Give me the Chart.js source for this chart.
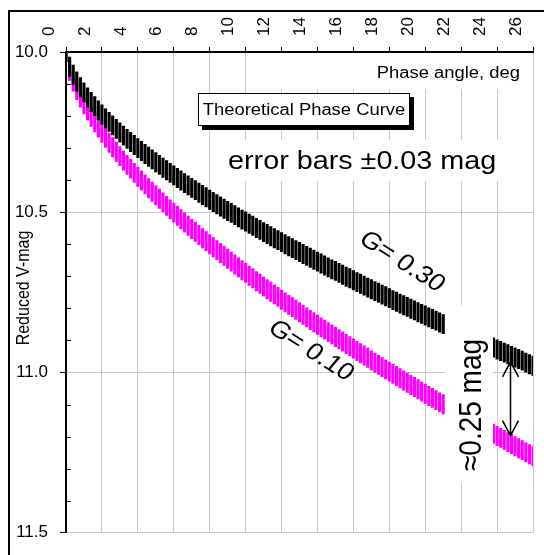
<!DOCTYPE html>
<html>
<head>
<meta charset="utf-8">
<title>Theoretical Phase Curve</title>
<script src="https://cdn.jsdelivr.net/npm/chart.js@4.4.1/dist/chart.umd.min.js"></script>
<style>
  html, body { margin: 0; padding: 0; background: #fff; }
  #phaseChart { display: block; }
</style>
</head>
<body>
<canvas id="phaseChart" width="544" height="555"></canvas>
<script>
// phase angle, deg
const phaseAngles = [
  0, 0.2, 0.4, 0.6, 0.8, 1, 1.2, 1.4, 1.6, 1.8, 2, 2.2, 2.4, 2.6, 2.8,
  3, 3.2, 3.4, 3.6, 3.8, 4, 4.2, 4.4, 4.6, 4.8, 5, 5.2, 5.4, 5.6, 5.8,
  6, 6.2, 6.4, 6.6, 6.8, 7, 7.2, 7.4, 7.6, 7.8, 8, 8.2, 8.4, 8.6, 8.8,
  9, 9.2, 9.4, 9.6, 9.8, 10, 10.2, 10.4, 10.6, 10.8, 11, 11.2, 11.4, 11.6, 11.8,
  12, 12.2, 12.4, 12.6, 12.8, 13, 13.2, 13.4, 13.6, 13.8, 14, 14.2, 14.4, 14.6, 14.8,
  15, 15.2, 15.4, 15.6, 15.8, 16, 16.2, 16.4, 16.6, 16.8, 17, 17.2, 17.4, 17.6, 17.8,
  18, 18.2, 18.4, 18.6, 18.8, 19, 19.2, 19.4, 19.6, 19.8, 20, 20.2, 20.4, 20.6, 20.8,
  21, 21.2, 21.4, 21.6, 21.8, 22, 22.2, 22.4, 22.6, 22.8, 23, 23.2, 23.4, 23.6, 23.8,
  24, 24.2, 24.4, 24.6, 24.8, 25, 25.2, 25.4, 25.6, 25.8, 26
];

// reduced V magnitude, G = 0.30
const magG030 = [
  10.000, 10.046, 10.071, 10.092, 10.110, 10.126, 10.142, 10.156, 10.169, 10.182, 10.195, 10.207, 10.218, 10.229, 10.240,
  10.251, 10.261, 10.271, 10.281, 10.290, 10.300, 10.309, 10.318, 10.327, 10.335, 10.344, 10.352, 10.361, 10.369, 10.377,
  10.385, 10.393, 10.401, 10.409, 10.416, 10.424, 10.431, 10.439, 10.446, 10.453, 10.461, 10.468, 10.475, 10.482, 10.489,
  10.496, 10.502, 10.509, 10.516, 10.523, 10.529, 10.536, 10.542, 10.549, 10.555, 10.562, 10.568, 10.575, 10.581, 10.587,
  10.593, 10.600, 10.606, 10.612, 10.618, 10.624, 10.630, 10.636, 10.642, 10.648, 10.654, 10.660, 10.666, 10.672, 10.678,
  10.683, 10.689, 10.695, 10.701, 10.706, 10.712, 10.718, 10.723, 10.729, 10.735, 10.740, 10.746, 10.751, 10.757, 10.762,
  10.768, 10.774, 10.779, 10.785, 10.790, 10.795, 10.801, 10.806, 10.812, 10.817, 10.822, 10.828, 10.833, 10.838, 10.844,
  10.849, 10.854, 10.860, 10.865, 10.870, 10.875, 10.881, 10.886, 10.891, 10.896, 10.902, 10.907, 10.912, 10.917, 10.922,
  10.928, 10.933, 10.938, 10.943, 10.948, 10.953, 10.958, 10.963, 10.969, 10.974, 10.979
];

// reduced V magnitude, G = 0.10
const magG010 = [
  10.000, 10.059, 10.092, 10.119, 10.142, 10.163, 10.183, 10.202, 10.219, 10.236, 10.252, 10.268, 10.283, 10.297, 10.311,
  10.325, 10.339, 10.352, 10.364, 10.377, 10.389, 10.401, 10.413, 10.425, 10.436, 10.447, 10.458, 10.469, 10.480, 10.491,
  10.501, 10.511, 10.522, 10.532, 10.542, 10.552, 10.561, 10.571, 10.581, 10.590, 10.600, 10.609, 10.618, 10.627, 10.636,
  10.645, 10.654, 10.663, 10.672, 10.681, 10.689, 10.698, 10.706, 10.715, 10.723, 10.732, 10.740, 10.748, 10.756, 10.764,
  10.773, 10.781, 10.789, 10.796, 10.804, 10.812, 10.820, 10.828, 10.836, 10.843, 10.851, 10.859, 10.866, 10.874, 10.881,
  10.889, 10.896, 10.903, 10.911, 10.918, 10.925, 10.933, 10.940, 10.947, 10.954, 10.962, 10.969, 10.976, 10.983, 10.990,
  10.997, 11.004, 11.011, 11.018, 11.025, 11.032, 11.039, 11.045, 11.052, 11.059, 11.066, 11.073, 11.079, 11.086, 11.093,
  11.099, 11.106, 11.113, 11.119, 11.126, 11.133, 11.139, 11.146, 11.152, 11.159, 11.165, 11.172, 11.178, 11.185, 11.191,
  11.198, 11.204, 11.210, 11.217, 11.223, 11.230, 11.236, 11.242, 11.249, 11.255, 11.261
];

const errHalf = 0.03;   // error bars +-0.03 mag

const xTicks = [0, 2, 4, 6, 8, 10, 12, 14, 16, 18, 20, 22, 24, 26];
const yTicks = [10.0, 10.5, 11.0, 11.5];
const yMinorTicks = [10.1, 10.2, 10.3, 10.4, 10.6, 10.7, 10.8, 10.9, 11.1, 11.2, 11.3, 11.4];

// arrow between the two curves: phase angle and magnitudes of the two tips
const arrowAngle = 24.7;
const arrowMags = [10.967, 11.197];

const FONT = '"Liberation Sans", Arial, Helvetica, sans-serif';
const STRETCH = 1.15;

function band(mags) {
  return phaseAngles.map((a, i) => ({ x: a, y: [mags[i] - errHalf, mags[i] + errHalf] }));
}

function drawLabel(ctx, text, x, y, size, angle, align, baseline) {
  ctx.save();
  ctx.translate(x, y);
  ctx.scale(STRETCH, 1);
  ctx.rotate(angle || 0);
  ctx.font = size + 'px ' + FONT;
  ctx.fillStyle = '#000';
  ctx.textAlign = align || 'center';
  ctx.textBaseline = baseline || 'middle';
  ctx.fillText(text, 0, 0);
  ctx.restore();
}

const annotations = {
  id: 'annotations',
  afterDraw(chart) {
    const ctx = chart.ctx;
    const area = chart.chartArea;
    const xs = chart.scales.x;
    const ys = chart.scales.y;
    ctx.save();

    // frame round the picture
    ctx.fillStyle = '#000';
    ctx.fillRect(8, 10, 2, 545);
    ctx.fillRect(8, 10, 536, 2);

    drawLabel(ctx, 'Reduced V-mag', 24, 288, 16, -Math.PI / 2);

    // minor ticks, inside the plot
    ctx.strokeStyle = '#000';
    ctx.lineWidth = 1;
    yMinorTicks.forEach(m => {
      const y = Math.round(ys.getPixelForValue(m)) + 0.5;
      ctx.beginPath();
      ctx.moveTo(area.left, y);
      ctx.lineTo(area.left + 5, y);
      ctx.stroke();
    });

    // axis title inside the plot, top right
    ctx.fillStyle = '#fff';
    ctx.fillRect(265, area.top + 1, area.right - 266, 36);
    drawLabel(ctx, 'Phase angle, deg', 520, 78, 16, 0, 'right', 'alphabetic');

    // title box with shadow
    ctx.fillStyle = '#000';
    ctx.fillRect(202, 97, 212, 33);
    ctx.fillStyle = '#fff';
    ctx.fillRect(198, 93, 212, 33);
    ctx.strokeStyle = '#000';
    ctx.lineWidth = 1;
    ctx.strokeRect(198.5, 93.5, 211, 32);
    drawLabel(ctx, 'Theoretical Phase Curve', 304, 115, 16, 0, 'center', 'alphabetic');

    ctx.fillStyle = '#fff';
    ctx.fillRect(218, 140, 314, 41);
    drawLabel(ctx, 'error bars \u00b10.03 mag', 228, 169, 25, 0, 'left', 'alphabetic');

    drawLabel(ctx, 'G= 0.30', 402, 262, 24, 0.63);
    drawLabel(ctx, 'G= 0.10', 311, 351, 24, 0.63);

    // difference label covers the bands between the two arrow positions
    ctx.fillStyle = '#fff';
    ctx.fillRect(445, 305, 48, 178);
    drawLabel(ctx, '\u22480.25 mag', 472, 405, 28, -Math.PI / 2);

    // double arrow
    const ax = Math.round(xs.getPixelForValue(arrowAngle)) + 0.5;
    const y1 = ys.getPixelForValue(arrowMags[0]);
    const y2 = ys.getPixelForValue(arrowMags[1]);
    ctx.strokeStyle = '#000';
    ctx.lineWidth = 1.5;
    ctx.beginPath();
    ctx.moveTo(ax, y1);
    ctx.lineTo(ax, y2);
    ctx.moveTo(ax - 8, y1 + 15);
    ctx.lineTo(ax, y1);
    ctx.lineTo(ax + 8, y1 + 15);
    ctx.moveTo(ax - 8, y2 - 15);
    ctx.lineTo(ax, y2);
    ctx.lineTo(ax + 8, y2 - 15);
    ctx.stroke();

    ctx.restore();
  }
};

document.addEventListener('DOMContentLoaded', function () {
  Chart.defaults.font.family = FONT;
  Chart.defaults.color = '#000';

  const barStyle = {
    borderWidth: 0,
    grouped: false,
    barPercentage: 1,
    categoryPercentage: 1,
    maxBarThickness: 2.5,
    clip: 0
  };

  const ctx = document.getElementById('phaseChart').getContext('2d');
  new Chart(ctx, {
    type: 'bar',
    data: {
      datasets: [
        Object.assign({ label: 'G= 0.30', data: band(magG030), backgroundColor: '#000000' }, barStyle),
        Object.assign({ label: 'G= 0.10', data: band(magG010), backgroundColor: '#ff00ff' }, barStyle)
      ]
    },
    options: {
      responsive: false,
      animation: false,
      layout: { padding: { left: 10, top: 12, right: 9, bottom: 13 } },
      plugins: {
        legend: { display: false },
        tooltip: { enabled: false }
      },
      scales: {
        x: {
          type: 'linear',
          position: 'top',
          offset: false,
          min: 0,
          max: 26,
          afterBuildTicks: scale => { scale.ticks = xTicks.map(v => ({ value: v })); },
          afterFit: scale => { scale.height = 40; },
          ticks: {
            autoSkip: false,
            minRotation: 90,
            maxRotation: 90,
            padding: 11,
            color: '#000',
            font: { size: 17, lineHeight: 1 }
          },
          grid: { offset: false, color: '#c8c8c8', lineWidth: 1, tickLength: 5, tickColor: '#000', tickWidth: 1 },
          border: { color: '#000', width: 2 }
        },
        y: {
          type: 'linear',
          reverse: true,
          min: 10,
          max: 11.5,
          afterBuildTicks: scale => { scale.ticks = yTicks.map(v => ({ value: v })); },
          afterFit: scale => { scale.width = 56; },
          ticks: {
            padding: 12,
            color: '#000',
            font: { size: 17 },
            callback: v => v.toFixed(1)
          },
          grid: { color: '#c8c8c8', lineWidth: 1, tickLength: 6, tickColor: '#000', tickWidth: 1 },
          border: { color: '#000', width: 2 }
        }
      }
    },
    plugins: [annotations]
  });
});
</script>
</body>
</html>
